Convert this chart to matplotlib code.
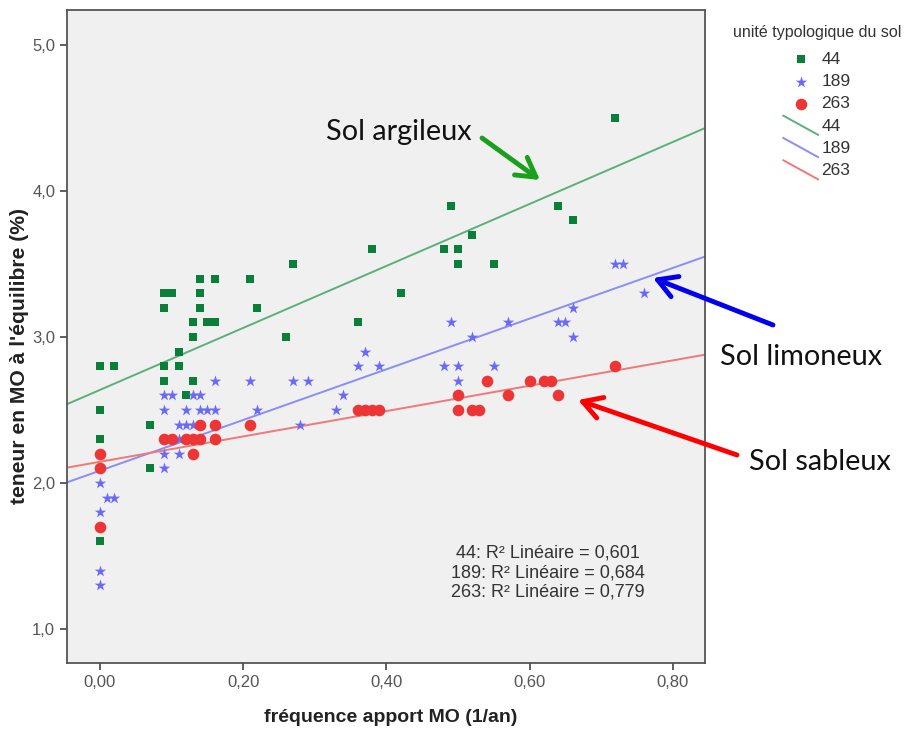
import numpy as np
import matplotlib
matplotlib.use("Agg")
import matplotlib.pyplot as plt
from matplotlib.lines import Line2D
from matplotlib.patches import FancyArrowPatch
from matplotlib.legend_handler import HandlerBase

# ---- data ----
x44 = [0, 0, 0, 0, 0.02, 0.07, 0.07, 0.09, 0.09, 0.09, 0.09, 0.10, 0.11, 0.11, 0.12,
       0.13, 0.13, 0.13, 0.14, 0.14, 0.14, 0.15, 0.16, 0.16, 0.21, 0.22, 0.26, 0.27,
       0.36, 0.38, 0.42, 0.48, 0.49, 0.50, 0.50, 0.52, 0.55, 0.64, 0.66, 0.72]
y44 = [2.8, 2.5, 2.3, 1.6, 2.8, 2.4, 2.1, 3.3, 3.2, 2.8, 2.7, 3.3, 2.9, 2.8, 2.6,
       3.1, 3.0, 2.7, 3.4, 3.3, 3.2, 3.1, 3.4, 3.1, 3.4, 3.2, 3.0, 3.5,
       3.1, 3.6, 3.3, 3.6, 3.9, 3.6, 3.5, 3.7, 3.5, 3.9, 3.8, 4.5]

x189 = [0, 0, 0, 0, 0.01, 0.02,
        0.09, 0.10, 0.13, 0.14,
        0.09, 0.12, 0.14, 0.15, 0.16,
        0.11, 0.12, 0.13, 0.11, 0.09, 0.11, 0.09,
        0.16, 0.21, 0.27, 0.29, 0.22, 0.28, 0.37, 0.36, 0.39, 0.34, 0.33,
        0.72, 0.73, 0.76, 0.66, 0.49, 0.57, 0.64, 0.65, 0.52, 0.66, 0.48, 0.50, 0.55, 0.50]
y189 = [2.0, 1.8, 1.4, 1.3, 1.9, 1.9,
        2.6, 2.6, 2.6, 2.6,
        2.5, 2.5, 2.5, 2.5, 2.5,
        2.4, 2.4, 2.4, 2.3, 2.2, 2.2, 2.1,
        2.7, 2.7, 2.7, 2.7, 2.5, 2.4, 2.9, 2.8, 2.8, 2.6, 2.5,
        3.5, 3.5, 3.3, 3.2, 3.1, 3.1, 3.1, 3.1, 3.0, 3.0, 2.8, 2.8, 2.8, 2.7]

x263 = [0, 0, 0,
        0.09, 0.10, 0.12, 0.13, 0.14, 0.16, 0.13,
        0.14, 0.16, 0.21,
        0.36, 0.37, 0.38, 0.39, 0.50, 0.52, 0.53,
        0.50, 0.57, 0.64, 0.54, 0.60, 0.62, 0.63, 0.72]
y263 = [2.2, 2.1, 1.7,
        2.3, 2.3, 2.3, 2.3, 2.3, 2.3, 2.2,
        2.4, 2.4, 2.4,
        2.5, 2.5, 2.5, 2.5, 2.5, 2.5, 2.5,
        2.6, 2.6, 2.6, 2.7, 2.7, 2.7, 2.7, 2.8]

groups = ["44", "189", "263"]
r2_labels = ["44: R² Linéaire = 0,601", "189: R² Linéaire = 0,684", "263: R² Linéaire = 0,779"]
xticks = [0.0, 0.2, 0.4, 0.6, 0.8]
yticks = [1.0, 2.0, 3.0, 4.0, 5.0]

W, H = 909, 729
fig = plt.figure(figsize=(W / 100, H / 100), dpi=100)
fig.patch.set_facecolor("white")
ax = fig.add_axes([67 / W, 1 - 663 / H, (705 - 67) / W, (663 - 10) / H])
ax.set_facecolor("#F0F0F0")

sc_col = {"44": "#0A7F3A", "189": "#6A6AFA", "263": "#EE3535"}
ln_col = {"44": "#5BB07C", "189": "#8C8CFA", "263": "#F07878"}
markers = {"44": ("s", 40), "189": ("*", 75), "263": ("o", 70)}
data = {"44": (x44, y44), "189": (x189, y189), "263": (x263, y263)}

xlim = (-0.046, 0.845)
ax.set_xlim(*xlim)
ax.set_ylim(0.767, 5.24)

handles = []
for g in groups:
    xs, ys = data[g]
    m, s = markers[g]
    h = ax.scatter(xs, ys, marker=m, s=s, color=sc_col[g], linewidths=0, zorder=3)
    handles.append(h)
line_handles = []
for g in groups:
    xs, ys = data[g]
    b, a = np.polyfit(xs, ys, 1)
    xx = np.array(xlim)
    l, = ax.plot(xx, a + b * xx, color=ln_col[g], lw=1.4, zorder=2)
    line_handles.append(l)

ax.set_xticks(xticks)
ax.set_xticklabels([f"{v:.2f}".replace(".", ",") for v in xticks])
ax.set_yticks(yticks)
ax.set_yticklabels([f"{v:.1f}".replace(".", ",") for v in yticks])
ax.tick_params(direction="out", length=5, width=1.2, colors="#444444",
               labelsize=12, labelcolor="#555555")
for sp in ax.spines.values():
    sp.set_color("#555555")
    sp.set_linewidth(1.3)
for t in ax.get_xticklabels() + ax.get_yticklabels():
    t.set_fontfamily("Liberation Sans")

fig.text(391 / W, 1 - 717 / H, "fréquence apport MO (1/an)", ha="center", va="center",
         fontsize=14, fontweight="bold", family="Liberation Sans", color="#222222")
fig.text(20 / W, 1 - 356 / H, "teneur en MO à l'équilibre (%)", ha="center", va="center",
         rotation=90, fontsize=15.2, fontweight="bold", family="Liberation Sans",
         color="#222222")

# R2 text
r2_y = [553, 573, 592]
for lab, yy in zip(r2_labels, r2_y):
    fig.text(548 / W, 1 - yy / H, lab, ha="center", va="center", fontsize=13,
             family="Liberation Sans", color="#333333")


class DiagHandler(HandlerBase):
    def create_artists(self, legend, orig_handle, xdescent, ydescent, width, height,
                       fontsize, trans):
        ln = Line2D([-xdescent, -xdescent + width], [-ydescent + height + 2, -ydescent - 3],
                    color=orig_handle.get_color(), lw=1.4, transform=trans)
        return [ln]


hmap = {l: DiagHandler() for l in line_handles}
leg = fig.legend(handles + line_handles, groups + groups, loc="upper center",
                 bbox_to_anchor=(817 / W, 1 - 43 / H), frameon=False,
                 prop={"family": "Liberation Sans", "size": 12.5}, labelspacing=0.41,
                 handlelength=2.0, handletextpad=0.2, borderpad=0, handler_map=hmap,
                 scatterpoints=1)
for t in leg.get_texts():
    t.set_color("#333333")
fig.text(817 / W, 1 - 33 / H, "unité typologique du sol", ha="center", va="center",
         fontsize=11.5, family="Liberation Sans", color="#333333")

# annotations
def fp(x, y):
    return (x, H - y)

anno_font = {"family": "Lato", "size": 20.8, "color": "#111111"}
fig.text(326 / W, 1 - 132 / H, "Sol argileux", ha="left", va="center", **anno_font)
fig.text(720 / W, 1 - 357 / H, "Sol limoneux", ha="left", va="center", **anno_font)
fig.text(749 / W, 1 - 462 / H, "Sol sableux", ha="left", va="center", **anno_font)

for (x0, y0), (x1, y1), c in [((482, 138), (540, 180), "#1AA01A"),
                              ((773, 325), (653, 278), "#0000EE"),
                              ((737, 455), (578, 400), "#FF0000")]:
    fig.add_artist(FancyArrowPatch(
        fp(x0, y0), fp(x1, y1), transform=None,
        arrowstyle="->,head_length=4.5,head_width=2.6",
        color=c, lw=3.5, mutation_scale=3, shrinkA=0, shrinkB=0))

fig.savefig("out.png", dpi=100)
